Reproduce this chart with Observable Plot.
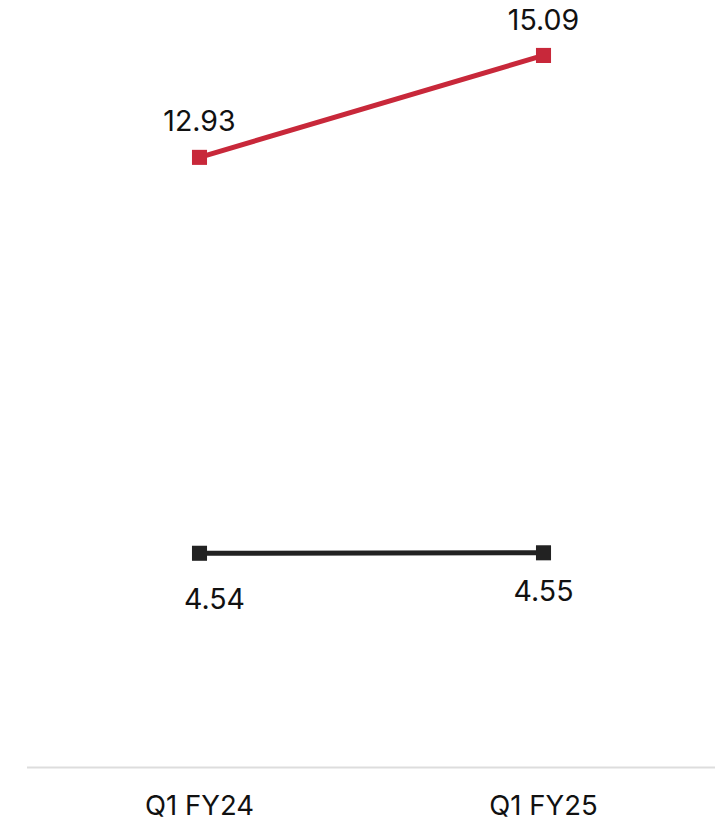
<!DOCTYPE html>
<html>
<head>
<meta charset="utf-8">
<script src="https://cdn.jsdelivr.net/npm/d3@7"></script>
<script src="https://cdn.jsdelivr.net/npm/@observablehq/plot@0.6"></script>
<style>
  html, body { margin: 0; padding: 0; background: #fff; }
</style>
</head>
<body>
<div id="chart"></div>
<script>
const periods = ["Q1 FY24", "Q1 FY25"];
const redSeries = [12.93, 15.09];
const blackSeries = [4.54, 4.55];

const RED = "#c8283a";
const BLACK = "#222222";

const redData = periods.map((p, i) => ({period: p, value: redSeries[i]}));
const blackData = periods.map((p, i) => ({period: p, value: blackSeries[i]}));

const font = "Inter, 'Noto Sans', sans-serif";

const chart = Plot.plot({
  width: 727,
  height: 824,
  marginLeft: 27,
  marginRight: 12,
  marginTop: 12,
  marginBottom: 57,
  style: {fontFamily: font, background: "#fff"},
  x: {type: "point", domain: periods, padding: 0.5, label: null},
  y: {domain: [0, 16], axis: null},
  marks: [
    Plot.ruleY([0], {stroke: "#dddddd", strokeWidth: 2}),
    Plot.axisX({tickSize: 0, tickPadding: 28, fontSize: 27.5, fill: "#111", label: null}),
    Plot.line(redData, {x: "period", y: "value", stroke: RED, strokeWidth: 5}),
    Plot.line(blackData, {x: "period", y: "value", stroke: BLACK, strokeWidth: 5}),
    Plot.dot(redData, {x: "period", y: "value", symbol: "square", r: 8.5, fill: RED}),
    Plot.dot(blackData, {x: "period", y: "value", symbol: "square", r: 8.5, fill: BLACK}),
    Plot.text(redData, {x: "period", y: "value", text: d => d.value.toFixed(2), dy: -35, fontSize: 28.5, fill: "#111"}),
    Plot.text(blackData.slice(0, 1), {x: "period", y: "value", text: d => d.value.toFixed(2), dy: 47, dx: 15, fontSize: 28.5, fill: "#111"}),
    Plot.text(blackData.slice(1), {x: "period", y: "value", text: d => d.value.toFixed(2), dy: 39, fontSize: 28.5, fill: "#111"})
  ]
});

document.getElementById("chart").appendChild(chart);
</script>
</body>
</html>
